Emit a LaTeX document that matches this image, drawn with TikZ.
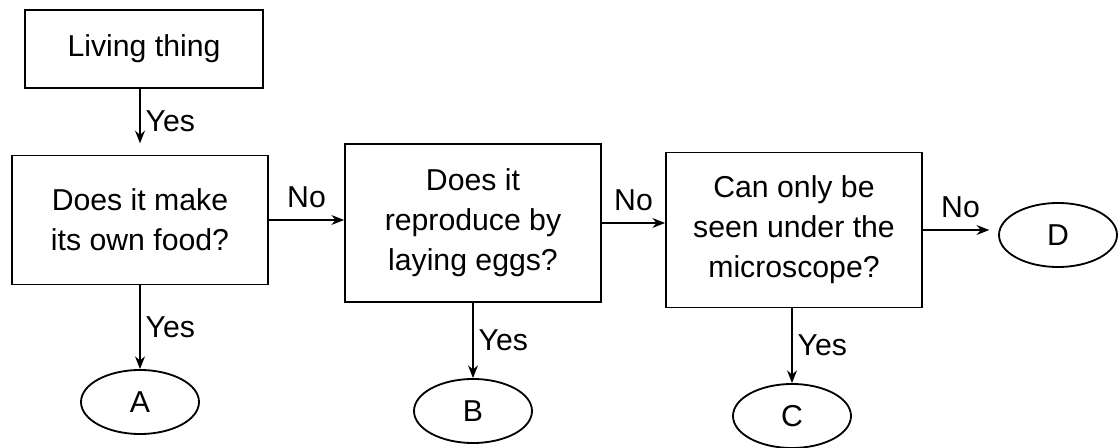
\documentclass[tikz,border=0pt]{standalone}
\usepackage{fontspec}
\setmainfont{Liberation Sans}
\usetikzlibrary{shapes.geometric, arrows.meta}

\begin{document}
\begin{tikzpicture}[
    txt/.style={font=\fontsize{21.5}{28.5}\selectfont},
    box/.style={draw, line width=1.3pt, minimum width=6.4cm, align=center, txt},
    leaf/.style={draw, ellipse, line width=1.3pt, minimum width=2.95cm, minimum height=1.6cm, txt},
    arr/.style={line width=1.3pt, -{Stealth[length=9pt, width=7pt]}}
  ]
  \useasboundingbox (0, 0) rectangle (28, 11.2);

  % question boxes
  \node[box, minimum width=5.95cm, minimum height=1.95cm] (living) at (3.6, 9.975) {Living thing};
  \node[box, minimum height=3.225cm] (food) at (3.5, 5.7) {Does it make\\its own food?};
  \node[box, minimum height=3.95cm] (eggs) at (11.825, 5.625) {Does it\\reproduce by\\laying eggs?};
  \node[box, minimum height=3.875cm] (micro) at (19.85, 5.45) {Can only be\\seen under the\\microscope?};

  % answers
  \node[leaf] (a) at (3.5, 1.15) {A};
  \node[leaf] (b) at (11.825, 0.925) {B};
  \node[leaf] (c) at (19.8, 0.8) {C};
  \node[leaf] (d) at (26.45, 5.325) {D};

  \draw[arr, shorten >=0.28cm] (living.south -| food.north) -- node[midway, right, txt] {Yes} (food.north);
  \draw[arr] (food.south) -- node[midway, right, txt] {Yes} (a.north);
  \draw[arr] (eggs.south) -- node[midway, right, txt] {Yes} (b.north);
  \draw[arr] (micro.south -| c.north) -- node[midway, right, txt] {Yes} (c.north);

  \draw[arr] (food.east) -- node[midway, above=5pt, txt] {No} (food.east -| eggs.west);
  \draw[arr] (eggs.east) -- node[midway, above=5pt, txt] {No} (eggs.east -| micro.west);
  \draw[arr, shorten >=0.22cm] (micro.east) -- node[midway, above=5pt, txt] {No} (micro.east -| d.west);
\end{tikzpicture}
\end{document}
